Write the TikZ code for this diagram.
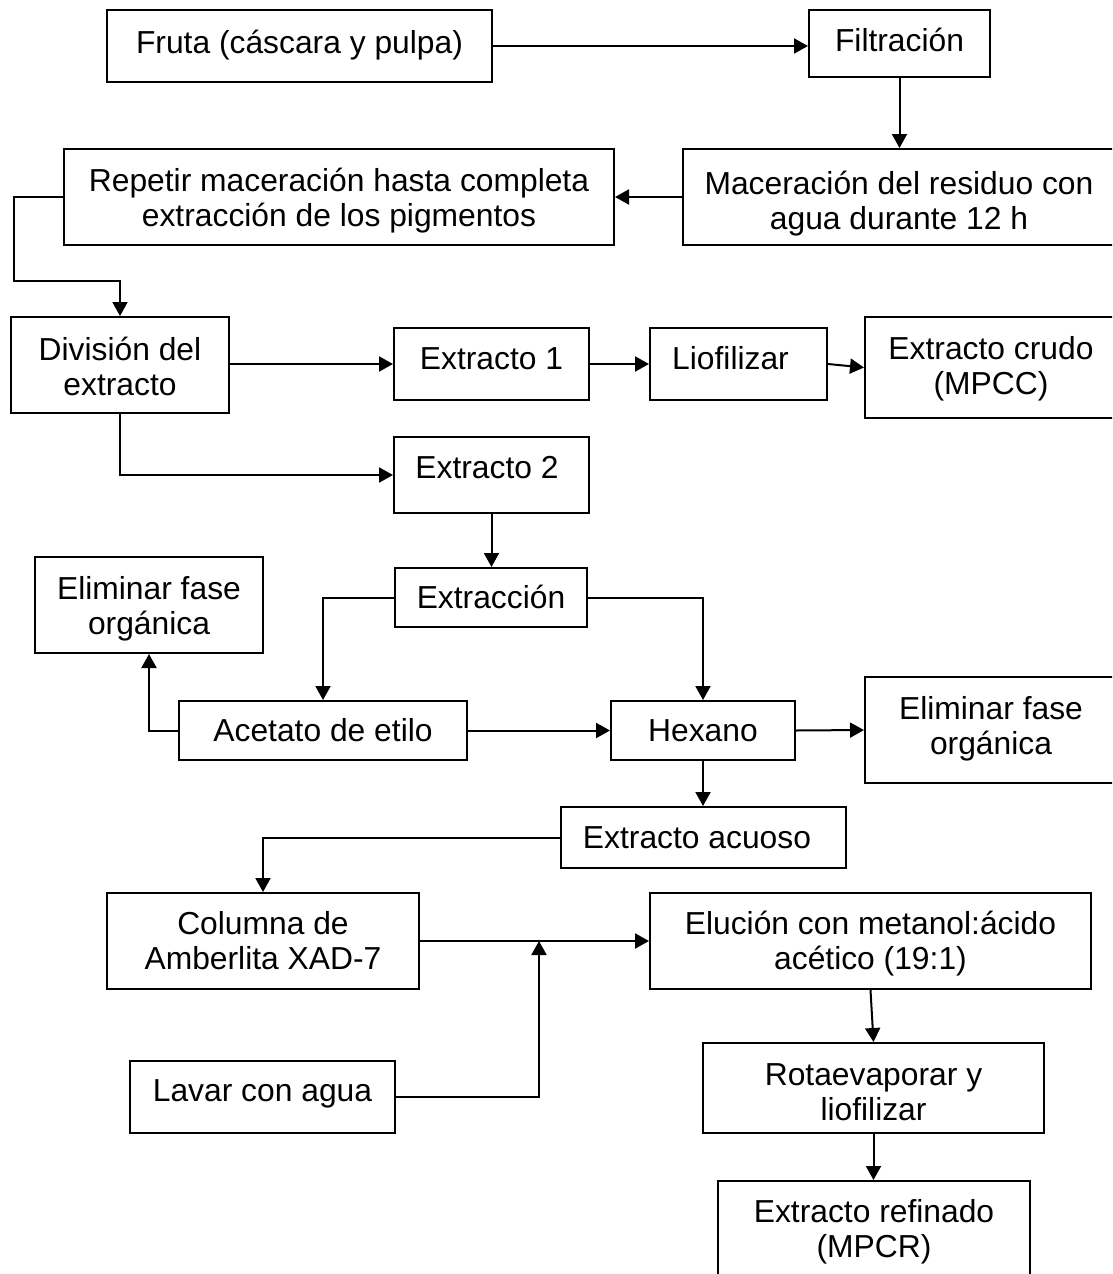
\documentclass[tikz,border=0pt]{standalone}
\usepackage{fontspec}
\setmainfont{Liberation Sans}
\usetikzlibrary{arrows.meta,calc}
\begin{document}
\begin{tikzpicture}[x=1pt,y=-1pt,
  box/.style={draw, line width=2pt, rectangle, inner sep=0pt, align=center,
    font=\fontsize{31.8}{35}\selectfont},
  % single-line text, raised by half of the given depth
  one/.style={text height=22pt, text depth=#1},
  one/.default=0pt,
  % two-line text: the height runs from the top of the first line to the last baseline
  two/.style={text height=#1, text depth=0pt},
  two/.default=58pt,
  arr/.style={line width=2pt, -{Triangle[length=14pt,width=15pt]}}]
\useasboundingbox (0,0) rectangle (1112,1274);
\fill[white] (0,0) rectangle (1112,1274);
\clip (0,0) rectangle (1112,1274);

% process steps
\node[box, one=8pt, minimum width=385pt, minimum height=72pt] (fruta) at (299.5,46) {Fruta (cáscara y pulpa)};
\node[box, one=7pt, minimum width=181pt, minimum height=67pt] (filt) at (899.5,43.5) {Filtración};
\node[box, two=64pt, minimum width=432pt, minimum height=96pt] (mac) at (899,197) {Maceración del residuo con\\agua durante 12 h};
\node[box, two=59pt, minimum width=550pt, minimum height=96pt] (rep) at (339,197) {Repetir maceración hasta completa\\extracción de los pigmentos};
\node[box, two=61pt, minimum width=218pt, minimum height=96pt] (div) at (120,365) {División del\\extracto};
\node[box, one=12pt, minimum width=195pt, minimum height=72pt] (e1) at (491.5,364) {Extracto 1};
\node[box, one=12pt, minimum width=177pt, minimum height=72pt] (lio) at (738.5,364) {Liofilizar\hspace{16pt}\mbox{}};
\node[box, two=53pt, minimum width=252pt, minimum height=101pt] (crudo) at (991,367.5) {Extracto crudo\\(MPCC)};
\node[box, one=16pt, minimum width=195pt, minimum height=76pt] (e2) at (491.5,475) {Extracto 2\hspace{9pt}\mbox{}};
\node[box, one, minimum width=192pt, minimum height=59pt] (extr) at (491,597.5) {Extracción};
\node[box, two=59pt, minimum width=228pt, minimum height=96pt] (elimL) at (149,605) {Eliminar fase\\orgánica};
\node[box, one, minimum width=288pt, minimum height=59pt] (acet) at (323,730.5) {Acetato de etilo};
\node[box, one, minimum width=184pt, minimum height=59pt] (hex) at (703,730.5) {Hexano};
\node[box, two=49pt, minimum width=252pt, minimum height=106pt] (elimR) at (991,730) {Eliminar fase\\orgánica};
\node[box, one, minimum width=285pt, minimum height=61pt] (acuoso) at (703.5,837.5) {Extracto acuoso\hspace{13pt}\mbox{}};
\node[box, two=57pt, minimum width=312pt, minimum height=96pt] (col) at (263,941) {Columna de\\Amberlita XAD-7};
\node[box, two=56pt, minimum width=441pt, minimum height=96pt] (elu) at (870.5,941) {Elución con metanol:ácido\\acético (19:1)};
\node[box, one=14pt, minimum width=265pt, minimum height=72pt] (lavar) at (262.5,1097) {Lavar con agua};
\node[box, two=65pt, minimum width=341pt, minimum height=90pt] (rota) at (873.5,1088) {Rotaevaporar y\\liofilizar};
\node[box, two=59pt, minimum width=312pt, minimum height=94pt] (refin) at (874,1228) {Extracto refinado\\(MPCR)};

% junction where the washing line meets the column outlet
\coordinate (jn) at (539,941);

% connectors
\draw[arr] (fruta.east) -- (fruta.east -| filt.west);
\draw[arr] (filt.south) -- (filt.south |- mac.north);
\draw[arr] (mac.west) -- (rep.east);
\draw[arr] (rep.west) -- ++(-49,0) |- ($(div.north)+(0,-35)$) -- (div.north);
\draw[arr] (div.east |- e1.west) -- (e1.west);
\draw[arr] (div.south) |- (e2.west);
\draw[arr] (e1.east) -- (lio.west);
\draw[arr] (lio.east) -- (crudo.west);
\draw[arr] (e2.south) -- (e2.south |- extr.north);
\draw[arr] (extr.west) -| (acet.north);
\draw[arr] (extr.east) -| (hex.north);
\draw[arr] (acet.west) -| (elimL.south);
\draw[arr] (acet.east) -- (hex.west);
\draw[arr] (hex.east) -- (elimR.west);
\draw[arr] (hex.south) -- (hex.south |- acuoso.north);
\draw[arr] (acuoso.west) -| (col.north);
\draw[arr] (col.east) -- (elu.west);
\draw[arr] (lavar.east) -| (jn);
\draw[arr] (elu.south) -- (rota.north);
\draw[arr] (rota.south) -- (rota.south |- refin.north);
\end{tikzpicture}
\end{document}
